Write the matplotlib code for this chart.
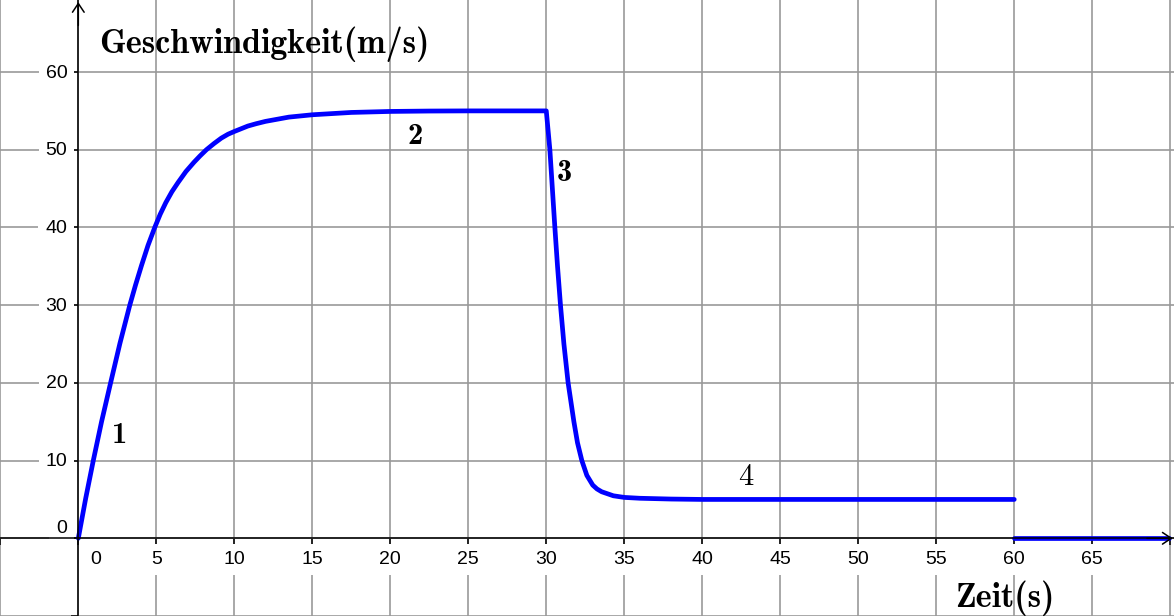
import os
import numpy as np
import matplotlib
matplotlib.use('Agg')
import matplotlib.pyplot as plt
from matplotlib.font_manager import FontProperties

# ---- data ----
t_speed = [0, 0.47, 0.96, 1.49, 2.07, 2.67, 3.30, 3.67, 4.05, 4.47, 4.90, 5.25, 5.61,
           6.0, 6.40, 6.9, 7.42, 7.8, 8.21, 8.7, 9.17, 9.6, 10, 10.87, 11.4, 12,
           13.5, 15, 17.5, 20, 22.5, 25, 30,
           30.23, 30.39, 30.55, 30.72, 30.91, 31.13, 31.40, 31.77, 32.0, 32.28, 32.6,
           32.98, 33.25, 33.55, 34.3, 35, 36, 38, 40, 50, 60]
v_speed = [0, 5.1, 10, 15, 20, 25.1, 30, 32.6, 35.1, 37.7, 40, 41.7, 43.2,
           44.6, 45.8, 47.2, 48.4, 49.2, 50, 50.8, 51.5, 52.0, 52.35, 53.05, 53.35, 53.65,
           54.2, 54.5, 54.8, 54.93, 54.98, 55, 55,
           50, 45, 40, 35, 30, 25, 20, 15, 12.3, 10, 8.1,
           6.84, 6.35, 5.99, 5.47, 5.26, 5.15, 5.05, 5.0, 5.0, 5.0]
t_stop = [60, 69.9]
v_stop = [0, 0]

x_tick_values = [0, 5, 10, 15, 20, 25, 30, 35, 40, 45, 50, 55, 60, 65]
y_tick_values = [0, 10, 20, 30, 40, 50, 60]
phase_labels = ['1', '2', '3', '4']
phase_label_t = [2.67, 21.56, 31.17, 42.8]
phase_label_v = [13.2, 51.7, 47.0, 7.8]
phase_label_bold = [True, True, True, False]
y_title = 'Geschwindigkeit(m/s)'
x_title = 'Zeit(s)'

ttf_dir = os.path.join(matplotlib.get_data_path(), 'fonts', 'ttf')
cm_bold = FontProperties(fname=os.path.join(ttf_dir, 'cmb10.ttf'))
cm_reg = FontProperties(fname=os.path.join(ttf_dir, 'cmr10.ttf'))

# ---- figure ----
fig = plt.figure(figsize=(11.74, 6.16), dpi=100)
ax = fig.add_axes([0, 0, 1, 1])
ax.set_xlim(-5.02, 70.24)
ax.set_ylim(-9.75, 69.27)
ax.set_xticks(np.arange(-5, 71, 5))
ax.set_yticks(np.arange(-10, 70, 10))
ax.set_axisbelow(True)
ax.grid(True, color='#999999', lw=1.2)
for s in ['top', 'right']:
    ax.spines[s].set_visible(False)
ax.spines['left'].set_position(('data', 0))
ax.spines['bottom'].set_position(('data', 0))
for s in ['left', 'bottom']:
    ax.spines[s].set_color('black')
    ax.spines[s].set_linewidth(1.1)
    ax.spines[s].set_zorder(5)
ax.tick_params(direction='out', length=5, width=1.1, color='black',
               labelbottom=False, labelleft=False)

# arrows at axis ends
arrow = dict(arrowstyle='->,head_length=0.45,head_width=0.3', color='black',
             lw=1.1, shrinkA=0, shrinkB=0, mutation_scale=14)
ax.annotate('', xy=(70.15, 0), xytext=(68.5, 0), arrowprops=arrow, zorder=6)
ax.annotate('', xy=(0, 69.0), xytext=(0, 66.0), arrowprops=arrow, zorder=6)

# curve
ax.plot(t_speed, v_speed, color='#0000ff', lw=3.4, solid_capstyle='round',
        solid_joinstyle='round', zorder=4)
ax.plot(t_stop, v_stop, color='#0000ff', lw=3.4, solid_capstyle='round', zorder=4)

# tick labels
box = dict(facecolor='white', edgecolor='none', pad=5)
tick_font = dict(family='Liberation Sans', fontsize=14)
for xv in x_tick_values:
    dx = 17 if xv == 0 else 0
    ax.annotate(str(xv), xy=(xv, 0), xytext=(dx, -21), textcoords='offset pixels',
                ha='center', va='center', bbox=box, zorder=3, **tick_font)
for yv in y_tick_values:
    dy = 10 if yv == 0 else -1
    ax.annotate(str(yv), xy=(0, yv), xytext=(-11, dy), textcoords='offset pixels',
                ha='right', va='center', bbox=box, zorder=3, **tick_font)

# phase labels
for lab, tt, vv, b in zip(phase_labels, phase_label_t, phase_label_v, phase_label_bold):
    fp = (cm_bold if b else cm_reg).copy()
    fp.set_size(22)
    ax.text(tt, vv, lab, ha='center', va='center', fontproperties=fp, zorder=6)

# axis titles
fp_title = cm_bold.copy()
fp_title.set_size(24.5)
ax.text(1.33, 62.5, y_title, ha='left', va='baseline', fontproperties=fp_title, zorder=6)
ax.text(56.2, -8.85, x_title, ha='left', va='baseline', fontproperties=fp_title, zorder=6)

fig.savefig('out.png', dpi=100)
